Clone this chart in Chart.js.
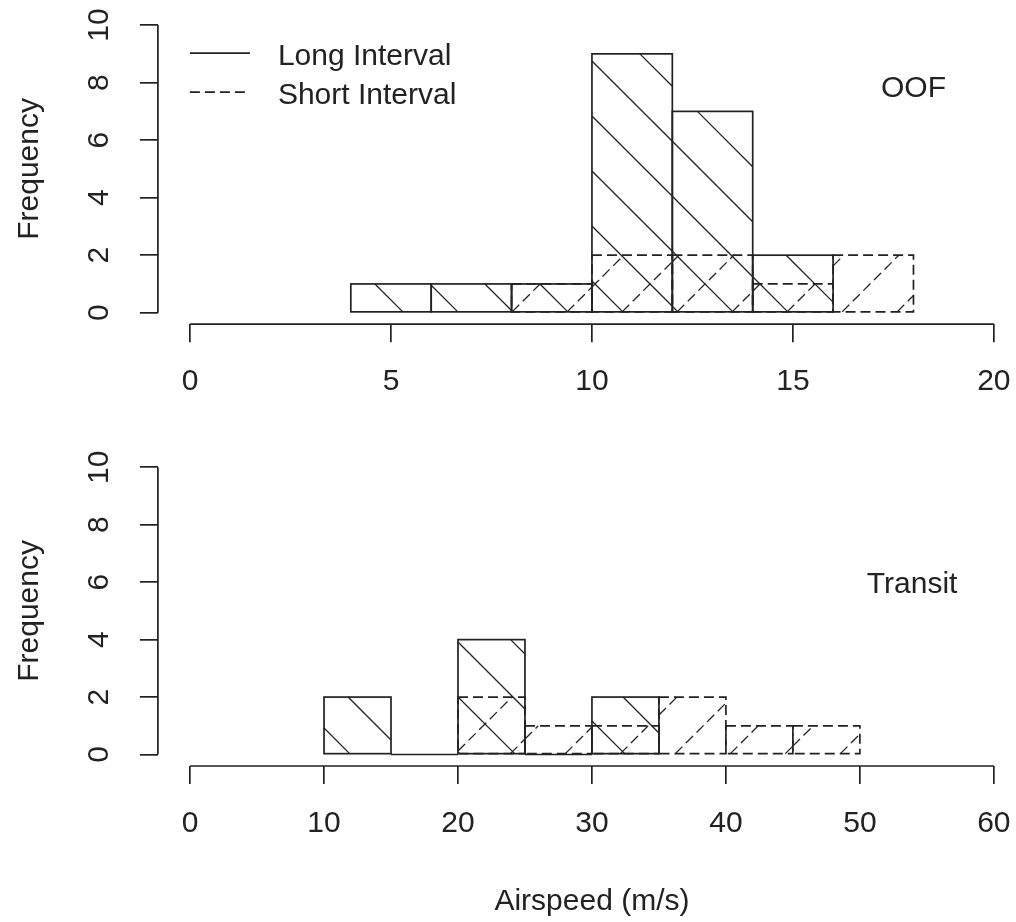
<!DOCTYPE html>
<html>
<head>
<meta charset="utf-8">
<script src="https://cdn.jsdelivr.net/npm/chart.js@4.4.1/dist/chart.umd.min.js"></script>
<style>
  html, body { margin: 0; padding: 0; background: #fff; overflow: hidden; }
  .panel { position: absolute; left: 0; width: 1026px; }
  .panel-top { top: 0; height: 440px; }
  .panel-bottom { top: 440px; height: 482px; }
</style>
</head>
<body>
<div class="panel panel-top"><canvas id="oof-chart"></canvas></div>
<div class="panel panel-bottom"><canvas id="transit-chart"></canvas></div>
<script>
// Data (histogram breaks + counts)
const oofLongBreaks = [4, 6, 8, 10, 12, 14, 16];
const oofLongCounts = [1, 1, 1, 9, 7, 2];
const oofShortBreaks = [8, 10, 12, 14, 16, 18];
const oofShortCounts = [1, 2, 2, 1, 2];

const transitLongBreaks = [10, 15, 20, 25, 30, 35];
const transitLongCounts = [2, 0, 4, 0, 2];
const transitShortBreaks = [20, 25, 30, 35, 40, 45, 50];
const transitShortCounts = [2, 1, 1, 2, 1, 1];

const oofXTicks = [0, 5, 10, 15, 20];
const transitXTicks = [0, 10, 20, 30, 40, 50, 60];
const frequencyTicks = [0, 2, 4, 6, 8, 10];
const seriesNames = ["Long Interval", "Short Interval"];
// End Data

const ink = "#222";
const fontFamily = "'Liberation Sans', Arial, sans-serif";
const hatchGap = 55;
const dashed = [10, 5];

Chart.defaults.font.family = fontFamily;
Chart.defaults.font.size = 30;
Chart.defaults.color = ink;

const toBars = (breaks, counts) =>
  counts.map((count, i) => ({ x: (breaks[i] + breaks[i + 1]) / 2, y: count }));

// Hatch lines, phase fixed to the page like R does
const drawHatch = (ctx, x0, y0, x1, y1, dir, offsetTop) => {
  ctx.beginPath();
  if (dir === "back") {
    const phase = 19;
    const k = Math.ceil((y0 - x1 + offsetTop - phase) / hatchGap);
    for (let b = phase + k * hatchGap - offsetTop; b <= y1 - x0; b += hatchGap) {
      const sx = Math.max(x0, y0 - b);
      const ex = Math.min(x1, y1 - b);
      if (ex > sx) {
        ctx.moveTo(sx, sx + b);
        ctx.lineTo(ex, ex + b);
      }
    }
  } else {
    const phase = 54;
    const k = Math.ceil((x0 + y0 + offsetTop - phase) / hatchGap);
    for (let b = phase + k * hatchGap - offsetTop; b <= x1 + y1; b += hatchGap) {
      const sx = Math.max(x0, b - y1);
      const ex = Math.min(x1, b - y0);
      if (ex > sx) {
        ctx.moveTo(sx, b - sx);
        ctx.lineTo(ex, b - ex);
      }
    }
  }
  ctx.stroke();
};

const rStylePlugin = {
  id: "rStyle",
  afterDatasetsDraw(chart, args, opts) {
    const { ctx, chartArea, scales } = chart;
    const xScale = scales.x;
    const yScale = scales.y;
    ctx.save();
    ctx.strokeStyle = ink;

    // Bars: hatch then outline
    chart.data.datasets.forEach((dataset, i) => {
      const meta = chart.getDatasetMeta(i);
      meta.data.forEach((bar) => {
        const { x, y, base, width } = bar.getProps(["x", "y", "base", "width"], true);
        const x0 = x - width / 2;
        const x1 = x + width / 2;
        const y0 = Math.min(y, base);
        const y1 = Math.max(y, base);
        ctx.setLineDash(dataset.dash);
        ctx.lineWidth = 1.3;
        if (y1 > y0) drawHatch(ctx, x0, y0, x1, y1, dataset.hatch, opts.offsetTop);
        ctx.lineWidth = 1.7;
        ctx.strokeRect(x0, y0, x1 - x0, y1 - y0);
      });
    });

    // Axis lines only between first and last tick
    ctx.setLineDash([]);
    ctx.lineWidth = 1.7;
    const xt = xScale.ticks;
    const yt = yScale.ticks;
    ctx.beginPath();
    ctx.moveTo(xScale.getPixelForValue(xt[0].value), chartArea.bottom);
    ctx.lineTo(xScale.getPixelForValue(xt[xt.length - 1].value), chartArea.bottom);
    ctx.moveTo(chartArea.left, yScale.getPixelForValue(yt[0].value));
    ctx.lineTo(chartArea.left, yScale.getPixelForValue(yt[yt.length - 1].value));
    ctx.stroke();

    ctx.fillStyle = ink;
    ctx.font = `30px ${fontFamily}`;
    ctx.textBaseline = "middle";

    // Panel label
    if (opts.label) {
      ctx.textAlign = "center";
      ctx.fillText(
        opts.label.text,
        xScale.getPixelForValue(opts.label.x),
        yScale.getPixelForValue(opts.label.y)
      );
    }

    // Legend (top left, no box)
    if (opts.legend) {
      ctx.textAlign = "left";
      chart.data.datasets.forEach((dataset, i) => {
        const rowY = chartArea.top + 39.5 + i * 39;
        ctx.setLineDash(dataset.dash);
        ctx.beginPath();
        ctx.moveTo(chartArea.left + 32, rowY);
        ctx.lineTo(chartArea.left + 92, rowY);
        ctx.stroke();
        ctx.fillText(dataset.label, chartArea.left + 120, rowY + 4);
      });
    }
    ctx.restore();
  },
};

const buildChart = (canvasId, cfg) => {
  const tickGrid = {
    drawOnChartArea: false,
    drawTicks: true,
    offset: false,
    tickLength: 18,
    color: ink,
    lineWidth: 1.7,
  };
  return new Chart(document.getElementById(canvasId), {
    type: "bar",
    data: {
      datasets: [
        {
          label: seriesNames[0],
          data: cfg.long,
          backgroundColor: "rgba(0,0,0,0)",
          borderWidth: 0,
          hatch: "back",
          dash: [],
        },
        {
          label: seriesNames[1],
          data: cfg.short,
          backgroundColor: "rgba(0,0,0,0)",
          borderWidth: 0,
          hatch: "fwd",
          dash: dashed,
        },
      ],
    },
    options: {
      responsive: true,
      maintainAspectRatio: false,
      animation: false,
      events: [],
      layout: { padding: { top: cfg.padTop, left: 0, right: 0, bottom: 0 } },
      datasets: {
        bar: { grouped: false, barPercentage: 1, categoryPercentage: 1 },
      },
      scales: {
        x: {
          type: "linear",
          offset: false,
          min: cfg.xMin,
          max: cfg.xMax,
          afterBuildTicks: (scale) => {
            scale.ticks = cfg.xTicks.map((v) => ({ value: v }));
          },
          afterFit: (scale) => {
            scale.height = cfg.xHeight;
            scale.paddingLeft = 0;
            scale.paddingRight = 0;
          },
          ticks: { autoSkip: false, maxRotation: 0, padding: 21.5 },
          grid: tickGrid,
          border: { display: false },
          title: {
            display: !!cfg.xTitle,
            text: cfg.xTitle || "",
            padding: { top: 0, bottom: 2.7 },
          },
        },
        y: {
          type: "linear",
          min: -0.4,
          max: 10.4,
          afterBuildTicks: (scale) => {
            scale.ticks = frequencyTicks.map((v) => ({ value: v }));
          },
          afterFit: (scale) => {
            scale.width = 157.9;
            scale.paddingTop = 0;
            scale.paddingBottom = 0;
          },
          ticks: { minRotation: 90, maxRotation: 90, crossAlign: "center", padding: 23 },
          grid: tickGrid,
          border: { display: false },
          title: {
            display: true,
            text: "Frequency",
            padding: { top: 11.6, bottom: 0 },
          },
        },
      },
      plugins: {
        legend: { display: false },
        tooltip: { enabled: false },
        rStyle: {
          offsetTop: cfg.offsetTop,
          legend: cfg.legend,
          label: cfg.label,
        },
      },
    },
    plugins: [rStylePlugin],
  });
};

// OOF
buildChart("oof-chart", {
  long: toBars(oofLongBreaks, oofLongCounts),
  short: toBars(oofShortBreaks, oofShortCounts),
  xMin: -0.8,
  xMax: 20.8,
  xTicks: oofXTicks,
  xHeight: 115.8,
  padTop: 13.6,
  offsetTop: 0,
  legend: true,
  label: { text: "OOF", x: 18, y: 7.8 },
});

// Transit
buildChart("transit-chart", {
  long: toBars(transitLongBreaks, transitLongCounts),
  short: toBars(transitShortBreaks, transitShortCounts),
  xMin: -2.4,
  xMax: 62.4,
  xTicks: transitXTicks,
  xHeight: 156,
  padTop: 15.8,
  offsetTop: 440,
  legend: false,
  label: { text: "Transit", x: 53.9, y: 5.9 },
  xTitle: "Airspeed (m/s)",
});
</script>
</body>
</html>
